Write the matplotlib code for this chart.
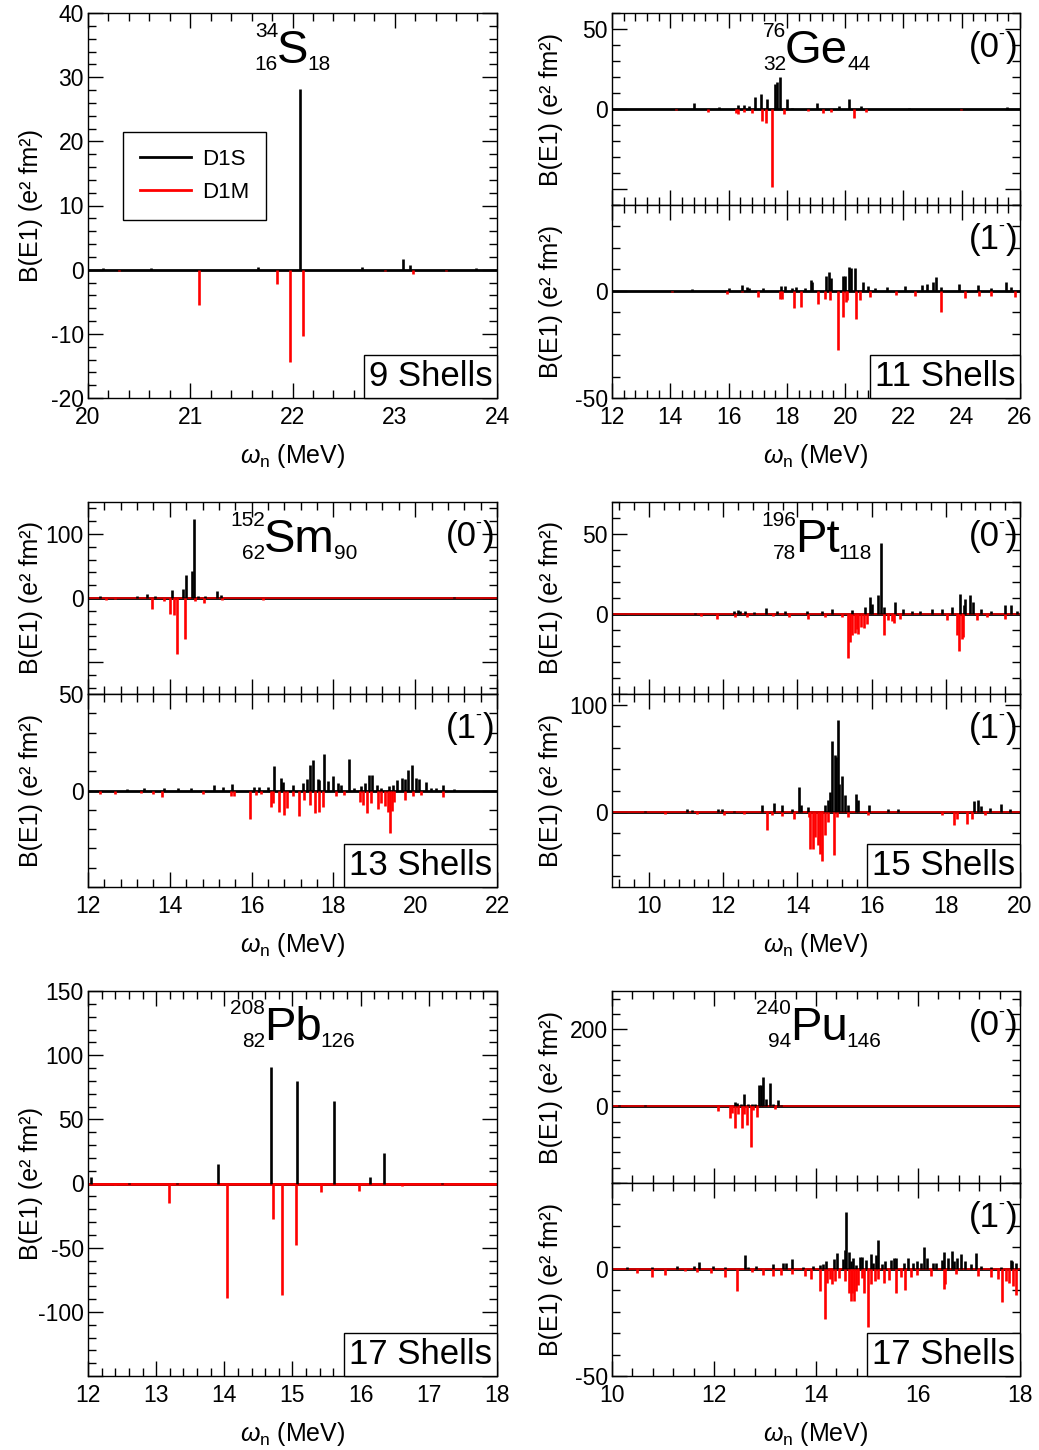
import numpy as np
import matplotlib
matplotlib.use("Agg")
import matplotlib.pyplot as plt
from matplotlib.ticker import MultipleLocator, FuncFormatter
from matplotlib.lines import Line2D

plt.rcParams['font.family'] = ['Liberation Sans', 'DejaVu Sans']
plt.rcParams['mathtext.fontset'] = 'custom'
plt.rcParams['mathtext.rm'] = 'Liberation Sans'
plt.rcParams['mathtext.it'] = 'Liberation Sans:italic'

# /=========================================================================
# data: B(E1) strengths (D1S up, D1M drawn downwards)

# 34S, 9 shells
s_d1s_x = [20.15, 20.62, 21.66, 22.075, 22.68, 23.08, 23.15, 23.79]
s_d1s_y = [0.2, 0.2, 0.4, 28.1, 0.4, 1.6, 0.7, 0.3]
s_d1m_x = [20.3, 21.09, 21.85, 21.98, 22.10, 22.9, 23.18, 23.5]
s_d1m_y = [-0.2, -5.5, -2.2, -14.4, -10.4, -0.2, -0.6, -0.2]

# 76Ge, 11 shells
ge0_d1s_x = [14.83, 15.68, 16.32, 16.54, 16.71, 16.91, 17.10, 17.33, 17.59, 17.67,
             17.76, 18.02, 18.18, 19.02, 19.80, 20.12, 20.54, 22.2, 25.56]
ge0_d1s_y = [3.5, 1.2, 2.5, 2.3, 1.9, 7.5, 9.4, 6.2, 15.8, 16.9,
             20.2, 6.5, 0.8, 3.5, 2.1, 6.2, 1.9, 0.8, 1.5]
ge0_d1m_x = [14.2, 15.31, 16.25, 16.34, 16.54, 16.82, 17.16, 17.27, 17.50, 17.90,
             18.74, 19.25, 19.53, 20.31, 20.70, 23.99]
ge0_d1m_y = [-0.8, -1.7, -2.3, -3.3, -1.9, -2.7, -7.5, -8.5, -48.5, -3.3,
             -1.5, -2.3, -1.7, -5.4, -1.9, -0.8]
ge1_d1s_x = [14.74, 16.00, 16.45, 16.62, 16.70, 17.19, 17.80, 17.94, 18.16, 18.30,
             18.62, 18.83, 18.87, 19.36, 19.44, 19.51, 19.93, 19.99, 20.13, 20.20,
             20.33, 20.62, 20.79, 21.04, 21.45, 22.07, 22.64, 22.82, 23.02, 23.13,
             23.30, 23.89, 24.56, 25.01, 25.53, 25.68]
ge1_d1s_y = [0.8, 1.1, 2.8, 1.9, 1.1, 1.5, 2.3, 2.3, 1.5, 1.7,
             1.5, 5.1, 4.3, 6.7, 8.8, 5.9, 6.7, 6.7, 11.1, 10.4,
             10.4, 4.3, 2.0, 1.5, 1.7, 2.0, 2.6, 3.3, 3.9, 6.3,
             1.7, 3.3, 2.8, 1.1, 4.2, 1.7]
ge1_d1m_x = [14.05, 15.94, 16.45, 17.02, 17.76, 17.82, 18.26, 18.47, 19.08, 19.31,
             19.48, 19.74, 19.93, 20.04, 20.08, 20.36, 20.52, 20.85, 21.73, 22.39,
             23.30, 24.10, 24.61, 25.01, 25.84]
ge1_d1m_y = [-0.8, -1.5, -0.8, -3.1, -3.9, -3.9, -8.0, -7.6, -6.0, -3.9,
             -4.5, -27.4, -12.2, -5.4, -4.5, -13.2, -4.5, -2.9, -1.9, -2.3,
             -10.1, -3.4, -2.3, -2.3, -2.9]

# 152Sm, 13 shells
sm0_d1s_x = [12.29, 13.21, 13.45, 13.63, 14.05, 14.32, 14.39, 14.55, 14.59, 14.69,
             14.85, 15.16, 15.26, 20.96]
sm0_d1s_y = [2.6, 3.1, 6.8, 3.6, 13.0, 14.6, 35.4, 41.7, 122.9, 3.6,
             2.6, 10.4, 5.2, 1.5]
sm0_d1m_x = [12.45, 12.65, 13.56, 13.86, 14.00, 14.10, 14.17, 14.36, 14.61, 14.83,
             15.27, 16.28]
sm0_d1m_y = [-2.6, -2.0, -16.7, -5.0, -25.0, -26.0, -87.5, -63.5, -5.0, -7.8,
             -3.6, -2.6]
sm1_d1s_x = [12.96, 13.37, 13.86, 14.21, 14.52, 15.08, 15.30, 15.52, 16.05, 16.19,
             16.40, 16.54, 16.71, 16.76, 17.01, 17.25, 17.36, 17.44, 17.50, 17.62,
             17.66, 17.78, 17.88, 18.00, 18.12, 18.19, 18.38, 18.51, 18.68, 18.78,
             18.88, 18.94, 19.07, 19.17, 19.37, 19.45, 19.56, 19.68, 19.74, 19.82,
             19.92, 20.02, 20.10, 20.27, 20.39, 20.51, 20.67, 20.96]
sm1_d1s_y = [1.0, 1.2, 1.2, 1.2, 1.2, 2.8, 1.6, 3.3, 1.6, 1.7,
             1.6, 12.5, 6.4, 4.2, 3.0, 3.8, 5.9, 13.4, 15.6, 5.9,
             5.6, 19.1, 4.7, 7.3, 3.8, 3.0, 16.5, 1.2, 2.4, 3.8,
             8.2, 8.2, 3.0, 1.2, 2.4, 3.0, 5.2, 6.4, 5.9, 10.8,
             13.2, 6.4, 5.9, 4.2, 1.2, 1.2, 3.0, 0.7]
sm1_d1m_x = [12.29, 12.65, 13.29, 13.59, 13.81, 14.81, 15.49, 15.58, 15.95, 16.11,
             16.23, 16.48, 16.52, 16.68, 16.79, 16.87, 17.01, 17.15, 17.28, 17.44,
             17.54, 17.66, 17.74, 18.07, 18.27, 18.64, 18.72, 18.81, 18.91, 19.08,
             19.17, 19.25, 19.33, 19.38, 19.43, 19.49, 19.74, 19.94, 20.14, 20.67]
sm1_d1m_y = [-1.7, -1.7, -1.4, -1.9, -3.5, -1.9, -2.8, -3.1, -14.9, -2.3,
             -1.7, -8.7, -6.3, -10.9, -12.7, -8.9, -2.8, -13.2, -4.9, -7.5,
             -11.5, -10.9, -8.7, -3.1, -2.3, -5.7, -7.5, -11.5, -6.6, -9.7,
             -6.6, -8.0, -10.9, -21.9, -10.4, -5.7, -4.9, -3.1, -2.3, -3.5]

# 196Pt, 15 shells
pt0_d1s_x = [11.23, 12.30, 12.39, 12.46, 12.59, 12.82, 13.15, 13.44, 13.67, 14.25,
             14.66, 14.92, 15.46, 15.82, 15.96, 16.00, 16.16, 16.25, 16.32, 16.63,
             16.85, 17.08, 17.30, 17.62, 17.89, 18.16, 18.38, 18.50, 18.53, 18.65,
             18.74, 18.96, 19.23, 19.59, 19.75, 19.91]
pt0_d1s_y = [0.8, 2.1, 2.5, 2.1, 1.7, 1.2, 3.7, 2.1, 1.7, 2.1,
             1.7, 3.3, 2.7, 4.1, 10.6, 6.4, 11.6, 44.2, 4.4, 7.5,
             2.9, 1.7, 1.7, 2.9, 3.3, 4.1, 12.4, 5.4, 9.5, 12.0,
             7.5, 2.9, 2.1, 5.4, 5.8, 1.7]
pt0_d1m_x = [11.41, 11.83, 12.32, 12.64, 13.35, 13.76, 14.28, 14.75, 15.19, 15.36,
             15.42, 15.48, 15.54, 15.60, 15.64, 15.71, 15.80, 15.87, 16.34, 16.45,
             16.54, 16.61, 16.76, 18.02, 18.29, 18.36, 18.43, 18.47, 18.83, 19.10,
             19.59]
pt0_d1m_y = [-1.2, -2.9, -1.7, -1.9, -1.5, -1.9, -3.3, -2.1, -1.9, -27.2,
             -17.4, -13.3, -11.6, -9.1, -12.2, -8.1, -8.7, -6.0, -12.9, -3.9,
             -4.6, -5.4, -2.9, -3.9, -12.9, -23.2, -15.4, -14.3, -3.9, -2.1,
             -2.9]
pt1_d1s_x = [9.90, 11.02, 11.15, 11.87, 11.96, 12.28, 13.04, 13.38, 13.58, 13.85,
             14.03, 14.10, 14.28, 14.75, 14.83, 14.88, 14.94, 15.00, 15.03, 15.09,
             15.13, 15.21, 15.28, 15.36, 15.58, 15.64, 15.93, 16.45, 16.70, 18.77,
             18.86, 18.96, 19.19, 19.50, 19.73]
pt1_d1s_y = [1.0, 3.1, 1.6, 2.5, 2.5, 1.0, 6.2, 8.7, 6.2, 2.5,
             23.1, 6.2, 4.7, 6.9, 10.9, 18.7, 66.0, 53.0, 51.0, 85.4,
             26.5, 33.6, 15.6, 6.2, 16.8, 10.9, 6.2, 3.1, 2.5, 10.0,
             11.5, 5.6, 4.0, 7.5, 3.1]
pt1_d1m_x = [10.44, 11.29, 12.03, 12.57, 13.17, 13.31, 13.58, 13.92, 14.30, 14.35,
             14.41, 14.48, 14.55, 14.62, 14.67, 14.75, 14.82, 14.99, 15.06, 15.37,
             15.89, 17.89, 18.23, 18.29, 18.56, 18.71, 19.05]
pt1_d1m_y = [-1.6, -2.2, -2.5, -2.2, -17.1, -3.1, -3.7, -6.9, -4.7, -34.3,
             -34.9, -23.4, -31.2, -38.9, -46.1, -21.8, -9.3, -39.9, -4.7, -4.7,
             -2.5, -3.1, -11.8, -6.2, -10.9, -6.2, -3.1]

# 208Pb, 17 shells
pb_d1s_x = [12.05, 12.6, 13.3, 13.91, 14.69, 15.07, 15.61, 16.14, 16.34, 17.2]
pb_d1s_y = [5.2, 0.5, 0.5, 15.1, 90.4, 80.0, 63.9, 5.2, 23.4, 0.5]
pb_d1m_x = [12.4, 13.19, 14.04, 14.71, 14.85, 15.05, 15.42, 15.98, 16.6]
pb_d1m_y = [-0.8, -15.3, -89.4, -27.8, -87.0, -48.1, -7.0, -5.7, -1.8]

# 240Pu, 17 shells
pu0_d1s_x = [10.13, 10.65, 12.41, 12.46, 12.53, 12.59, 12.67, 12.74, 12.81, 12.89,
             12.92, 12.96, 13.01, 13.09, 13.16, 13.26, 13.32]
pu0_d1s_y = [2.6, 2.6, 11.3, 8.7, 5.2, 31.3, 7.0, 7.0, 7.0, 54.8,
             56.5, 76.5, 20.0, 60.9, 7.0, 17.4, 4.3]
pu0_d1m_x = [12.07, 12.31, 12.36, 12.42, 12.48, 12.54, 12.59, 12.64, 12.72, 12.77,
             12.85, 13.19]
pu0_d1m_y = [-12.2, -29.6, -17.4, -55.7, -20.9, -55.7, -19.1, -49.6, -106.0, -8.7,
             -27.8, -6.0]
pu1_d1s_x = [10.29, 10.78, 11.27, 11.60, 11.71, 11.99, 12.21, 12.61, 12.67, 12.83,
             13.16, 13.36, 13.42, 13.52, 13.75, 13.94, 14.07, 14.14, 14.20, 14.35,
             14.42, 14.53, 14.56, 14.59, 14.64, 14.68, 14.72, 14.79, 14.87, 14.90,
             14.98, 15.07, 15.11, 15.18, 15.21, 15.29, 15.36, 15.47, 15.52, 15.57,
             15.73, 15.81, 15.90, 15.98, 16.06, 16.12, 16.18, 16.29, 16.35, 16.48,
             16.51, 16.59, 16.66, 16.71, 16.76, 16.84, 16.93, 17.04, 17.13, 17.23,
             17.43, 17.62, 17.82, 17.85, 17.92]
pu1_d1s_y = [0.6, 0.9, 1.1, 1.1, 3.1, 1.5, 0.9, 6.2, 0.9, 1.1,
             2.2, 2.6, 2.6, 4.6, 0.9, 1.1, 1.9, 2.2, 3.7, 4.6,
             7.3, 4.6, 8.8, 26.3, 7.7, 3.4, 5.0, 1.9, 5.7, 5.7,
             4.2, 6.8, 2.6, 6.5, 13.5, 2.2, 3.7, 4.2, 5.0, 5.0,
             2.6, 5.0, 2.6, 3.4, 2.6, 10.2, 5.0, 2.6, 2.6, 4.2,
             8.0, 5.0, 8.4, 3.4, 5.0, 6.8, 3.4, 2.2, 7.3, 1.1,
             0.9, 0.9, 4.2, 3.4, 2.6]
pu1_d1m_x = [10.49, 10.79, 11.03, 11.43, 11.66, 11.95, 12.21, 12.46, 12.74, 12.96,
             13.16, 13.32, 13.52, 13.78, 13.91, 14.07, 14.17, 14.22, 14.27, 14.31,
             14.38, 14.46, 14.56, 14.64, 14.68, 14.71, 14.74, 14.79, 14.82, 14.90,
             14.95, 15.02, 15.07, 15.15, 15.21, 15.33, 15.44, 15.57, 15.67, 15.75,
             15.86, 15.99, 16.25, 16.50, 16.53, 16.74, 17.17, 17.43, 17.56, 17.64,
             17.72, 17.78, 17.87, 17.92]
pu1_d1m_y = [-2.0, -4.0, -3.1, -1.2, -1.5, -2.0, -4.0, -10.2, -1.5, -3.1,
             -3.6, -2.8, -2.5, -3.6, -4.6, -10.5, -23.2, -6.7, -4.6, -7.1,
             -5.6, -4.3, -5.9, -11.3, -15.2, -11.3, -15.2, -10.5, -7.4, -4.3,
             -11.3, -27.0, -7.1, -5.6, -4.6, -6.7, -5.1, -11.3, -4.0, -9.8,
             -4.0, -2.8, -3.6, -9.3, -7.1, -2.5, -3.6, -4.0, -4.6, -15.5,
             -5.6, -6.7, -8.2, -12.4]

# =========================================================================/

W, H = 1039, 1450
fig = plt.figure(figsize=(W / 100, H / 100), dpi=100)
YLAB = 'B(E1) (e\u00b2 fm\u00b2)'
XLAB = r'$\omega_{\rm n}$ (MeV)'


def pbox(x0, y0, x1, y1):
    # pixel box (top-left origin) -> figure fraction rect
    return [x0 / W, 1 - y1 / H, (x1 - x0) / W, (y1 - y0) / H]


def parity_tag(xr, base, digit):
    # "(J-)" label with a small raised dash, right edge xr, baseline base (pixels)
    r = fig.canvas.get_renderer()
    t = fig.text(xr / W, 1 - base / H, ')', fontsize=25, ha='right', va='baseline')
    x0 = t.get_window_extent(r).x0
    d = fig.text((x0 - 1) / W, 1 - (base - 18) / H, '-', fontsize=13,
                 ha='right', va='baseline')
    x0 = d.get_window_extent(r).x0
    fig.text((x0 + 1) / W, 1 - base / H, '(' + digit, fontsize=25,
             ha='right', va='baseline')


def make_axis(rect, xlim, xstep, ylim, ystep, yminor, ylabels, xlabel=True,
              red_base=False, tag=None):
    ax = fig.add_axes(pbox(*rect))
    ax.set_xlim(*xlim)
    ax.set_ylim(*ylim)
    ax.xaxis.set_major_locator(MultipleLocator(xstep[0]))
    ax.xaxis.set_minor_locator(MultipleLocator(xstep[1]))
    ax.yaxis.set_major_locator(MultipleLocator(ystep))
    ax.yaxis.set_minor_locator(MultipleLocator(yminor))
    ax.yaxis.set_major_formatter(FuncFormatter(
        lambda v, p: '%g' % v if any(abs(v - s) < 1e-6 for s in ylabels) else ''))
    ax.tick_params(which='both', direction='in', top=True, right=True,
                   width=1.0, labelsize=16.5)
    ax.tick_params(which='major', length=11)
    ax.tick_params(which='minor', length=5.5)
    ax.tick_params(axis='x', pad=6)
    ax.tick_params(axis='y', pad=3)
    for sp in ax.spines.values():
        sp.set_linewidth(1.0)
    h = rect[3] - rect[1]
    ax.set_ylabel(YLAB, fontsize=18)
    xoff = 45 if rect[0] < 300 else 49
    ax.yaxis.set_label_coords(-xoff / (rect[2] - rect[0]), 0.5)
    if xlabel:
        ax.set_xlabel(XLAB, fontsize=18)
        ax.xaxis.set_label_coords(0.5, -44 / h)
    else:
        ax.tick_params(axis='x', labelbottom=False)
    ax.axhline(0, color='black', lw=2.0, zorder=2)
    if red_base:
        ax.axhline(0, color='red', lw=1.1, zorder=2.1)
    if tag:
        parity_tag(rect[2] - 3, rect[1] + 44, tag)
    return ax


def spikes(ax, x1, y1, x2, y2):
    ax.vlines(x1, 0, y1, colors='black', lw=1.9, zorder=3)
    ax.vlines(x2, 0, y2, colors='red', lw=1.9, zorder=3)


def shells(ax, n):
    ax.annotate('%d Shells' % n, xy=(1, 0), xycoords='axes fraction',
                xytext=(-3.5, 3.5), textcoords='offset points', ha='right',
                va='bottom', fontsize=25, zorder=10,
                bbox=dict(boxstyle='square,pad=0.14', fc='white', ec='black', lw=1.0))


def nuclide(x, y, mass, z, n, sym):
    # x, y: left edge / baseline of element symbol in pixels (top-left origin)
    r = fig.canvas.get_renderer()
    t = fig.text(x / W, 1 - y / H, sym, fontsize=34, ha='left', va='baseline')
    bb = t.get_window_extent(r)
    fig.text((bb.x0 + 1) / W, 1 - (y - 26) / H, mass, fontsize=15,
             ha='right', va='baseline')
    fig.text((bb.x0 + 1) / W, 1 - (y + 7) / H, z, fontsize=15,
             ha='right', va='baseline')
    fig.text((bb.x1 - 1) / W, 1 - (y + 7) / H, n, fontsize=15,
             ha='left', va='baseline')


LX, RX = (88, 497), (612, 1020)

# ---- 34S
ax = make_axis((LX[0], 13, LX[1], 398), (20, 24), (1, 0.2), (-20, 40), 10, 2,
               [-20, -10, 0, 10, 20, 30, 40])
spikes(ax, s_d1s_x, s_d1s_y, s_d1m_x, s_d1m_y)
shells(ax, 9)
handles = [Line2D([], [], color='black', lw=2), Line2D([], [], color='red', lw=2)]
leg = ax.legend(handles, ['D1S', 'D1M'], loc='upper left',
                bbox_to_anchor=(35 / 409, 1 - 119 / 385), borderaxespad=0,
                fontsize=16, handlelength=2.3, handletextpad=0.5,
                labelspacing=0.55, borderpad=0.75, fancybox=False, framealpha=1)
leg.get_frame().set_edgecolor('black')
leg.get_frame().set_linewidth(1.0)
nuclide(277, 63, '34', '16', '18', 'S')

# ---- 76Ge
ax = make_axis((RX[0], 13, RX[1], 205), (12, 26), (2, 0.4), (-60, 60), 50, 10,
               [0, 50], xlabel=False, tag='0')
spikes(ax, ge0_d1s_x, ge0_d1s_y, ge0_d1m_x, ge0_d1m_y)
ax = make_axis((RX[0], 205, RX[1], 398), (12, 26), (2, 0.4), (-50, 40), 50, 10,
               [-50, 0], tag='1')
spikes(ax, ge1_d1s_x, ge1_d1s_y, ge1_d1m_x, ge1_d1m_y)
shells(ax, 11)
nuclide(785, 63, '76', '32', '44', 'Ge')

# ---- 152Sm
ax = make_axis((LX[0], 502, LX[1], 694), (12, 22), (2, 0.4), (-150, 150), 100, 20,
               [0, 100], xlabel=False, red_base=True, tag='0')
spikes(ax, sm0_d1s_x, sm0_d1s_y, sm0_d1m_x, sm0_d1m_y)
ax = make_axis((LX[0], 694, LX[1], 887), (12, 22), (2, 0.4), (-50, 50), 50, 10,
               [0, 50], tag='1')
spikes(ax, sm1_d1s_x, sm1_d1s_y, sm1_d1m_x, sm1_d1m_y)
shells(ax, 13)
nuclide(264, 552, '152', '62', '90', 'Sm')

# ---- 196Pt
ax = make_axis((RX[0], 502, RX[1], 694), (9, 20), (2, 0.4), (-50, 70), 50, 10,
               [0, 50], xlabel=False, red_base=True, tag='0')
spikes(ax, pt0_d1s_x, pt0_d1s_y, pt0_d1m_x, pt0_d1m_y)
ax = make_axis((RX[0], 694, RX[1], 887), (9, 20), (2, 0.4), (-70, 110), 100, 20,
               [0, 100], red_base=True, tag='1')
spikes(ax, pt1_d1s_x, pt1_d1s_y, pt1_d1m_x, pt1_d1m_y)
shells(ax, 15)
nuclide(795, 552, '196', '78', '118', 'Pt')

# ---- 208Pb
ax = make_axis((LX[0], 991, LX[1], 1376), (12, 18), (1, 0.2), (-150, 150), 50, 10,
               [-100, -50, 0, 50, 100, 150], red_base=True)
spikes(ax, pb_d1s_x, pb_d1s_y, pb_d1m_x, pb_d1m_y)
ax.axhline(0, color='red', lw=1.8, zorder=2.2)
shells(ax, 17)
nuclide(264, 1040, '208', '82', '126', 'Pb')

# ---- 240Pu
ax = make_axis((RX[0], 991, RX[1], 1183), (10, 18), (2, 0.4), (-200, 300), 200, 40,
               [0, 200], xlabel=False, red_base=True, tag='0')
spikes(ax, pu0_d1s_x, pu0_d1s_y, pu0_d1m_x, pu0_d1m_y)
ax = make_axis((RX[0], 1183, RX[1], 1376), (10, 18), (2, 0.4), (-50, 40), 50, 10,
               [-50, 0], red_base=True, tag='1')
spikes(ax, pu1_d1s_x, pu1_d1s_y, pu1_d1m_x, pu1_d1m_y)
shells(ax, 17)
nuclide(790, 1040, '240', '94', '146', 'Pu')

fig.savefig('out.png', dpi=100)
